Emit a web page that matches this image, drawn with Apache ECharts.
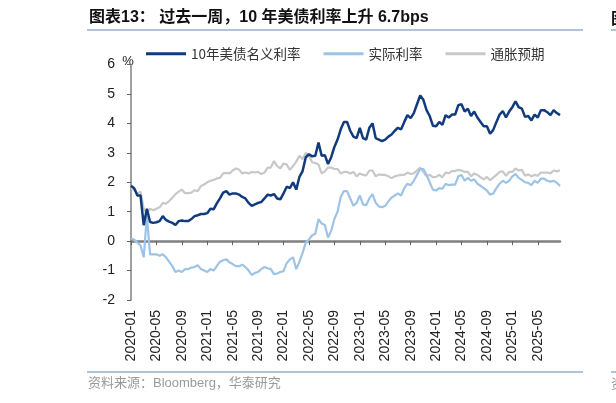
<!DOCTYPE html>
<html>
<head>
<meta charset="utf-8">
<script src="https://cdn.jsdelivr.net/npm/echarts@6.0.0/dist/echarts.min.js"></script>
<style>
  html, body { margin: 0; padding: 0; background: #fff; }
  #main { width: 616px; height: 403px; }
</style>
</head>
<body>
<div id="main"></div>
<script>
// 半月一个点：2020-01 至 2025-08
let dates = [];
for (let y = 2020; y <= 2025; y++) {
    for (let m = 1; m <= 12; m++) {
        if (y === 2025 && m > 8) break;
        let mm = (m < 10 ? '0' : '') + m;
        dates.push(y + '-' + mm + '-01');
        dates.push(y + '-' + mm + '-16');
    }
}

// 10年美债名义利率
let nominal = [
    1.88,1.80, 1.55,1.55, 0.54,1.10, 0.65,0.62, 0.64,0.68, 0.85,0.72, 0.66,0.62, 0.55,0.68, 0.70,0.68, 0.68,0.75, 0.85,0.88, 0.92,0.92,
    0.95,1.10, 1.08,1.28, 1.45,1.65, 1.70,1.58, 1.62,1.62, 1.58,1.50, 1.45,1.30, 1.20,1.25, 1.30,1.33, 1.45,1.58, 1.55,1.60, 1.45,1.42,
    1.62,1.85, 1.80,2.00, 1.75,2.18, 2.38,2.85, 2.95,2.88, 2.90,3.35, 2.90,2.92, 2.62,2.85, 3.20,3.45, 3.80,4.05, 4.05,3.75, 3.55,3.50,
    3.85,3.50, 3.45,3.85, 4.00,3.50, 3.45,3.40, 3.45,3.55, 3.62,3.75, 3.85,3.80, 4.05,4.28, 4.18,4.35, 4.65,4.95, 4.80,4.45, 4.25,3.92,
    3.90,4.05, 3.95,4.28, 4.20,4.30, 4.30,4.62, 4.65,4.40, 4.50,4.25, 4.40,4.20, 4.05,3.90, 3.90,3.65, 3.78,4.05, 4.30,4.42, 4.20,4.40,
    4.55,4.75, 4.55,4.50, 4.22,4.25, 4.10,4.30, 4.20,4.45, 4.45,4.38, 4.28,4.45, 4.35,4.28
];
// 实际利率
let real = [
    0.10,0.05, -0.05,-0.15, -0.55,0.85, -0.45,-0.45, -0.45,-0.50, -0.45,-0.55, -0.70,-0.85, -1.05,-1.00, -1.05,-0.95, -0.95,-0.90, -0.88,-0.82, -0.95,-1.00,
    -1.05,-0.95, -1.00,-0.85, -0.70,-0.65, -0.62,-0.72, -0.78,-0.85, -0.85,-0.80, -0.88,-1.00, -1.15,-1.08, -1.05,-0.95, -0.88,-0.92, -0.95,-1.12, -1.10,-1.05,
    -1.02,-0.75, -0.62,-0.55, -0.95,-0.70, -0.40,-0.05, 0.05,0.20, 0.25,0.75, 0.60,0.55, 0.12,0.35, 0.75,1.00, 1.50,1.70, 1.70,1.45, 1.20,1.30,
    1.55,1.25, 1.22,1.45, 1.60,1.30, 1.18,1.15, 1.20,1.35, 1.48,1.55, 1.62,1.55, 1.80,1.95, 1.90,2.05, 2.25,2.45, 2.45,2.25, 2.00,1.75,
    1.72,1.80, 1.78,1.95, 1.90,1.92, 1.92,2.20, 2.25,2.05, 2.15,2.05, 2.10,1.95, 1.88,1.80, 1.72,1.58, 1.62,1.80, 1.95,2.05, 1.98,2.05,
    2.20,2.28, 2.15,2.08, 2.00,1.98, 1.90,2.05, 1.98,2.12, 2.12,2.05, 2.02,2.05, 1.98,1.87
];
// 通胀预期
let breakeven = [
    1.78,1.75, 1.62,1.68, 1.10,0.95, 1.10,1.05, 1.10,1.15, 1.30,1.27, 1.36,1.47, 1.60,1.68, 1.75,1.63, 1.63,1.65, 1.73,1.70, 1.87,1.92,
    2.00,2.05, 2.08,2.13, 2.15,2.30, 2.32,2.30, 2.40,2.47, 2.43,2.30, 2.33,2.30, 2.35,2.33, 2.35,2.28, 2.33,2.50, 2.50,2.72, 2.55,2.47,
    2.64,2.60, 2.42,2.55, 2.70,2.90, 2.78,3.00, 2.90,2.68, 2.65,2.60, 2.30,2.37, 2.50,2.50, 2.45,2.45, 2.30,2.35, 2.35,2.30, 2.35,2.20,
    2.30,2.25, 2.23,2.40, 2.40,2.20, 2.27,2.25, 2.25,2.20, 2.14,2.20, 2.23,2.25, 2.25,2.33, 2.28,2.30, 2.40,2.50, 2.35,2.20, 2.25,2.17,
    2.18,2.25, 2.17,2.33, 2.30,2.38, 2.38,2.42, 2.40,2.35, 2.35,2.20, 2.30,2.25, 2.17,2.10, 2.18,2.07, 2.16,2.25, 2.35,2.37, 2.22,2.35,
    2.35,2.47, 2.40,2.42, 2.22,2.27, 2.20,2.25, 2.22,2.33, 2.33,2.33, 2.30,2.40, 2.37,2.41
];

let seriesNames = ['10年美债名义利率', '实际利率', '通胀预期'];
let colors = ['#113b7c', '#9dc3e6', '#c8c8c8'];
let fontStack = "'Liberation Sans', Arial, 'Noto Sans CJK SC', sans-serif";

let chart = echarts.init(document.getElementById('main'));
let option = {
    animation: false,
    textStyle: { fontFamily: fontStack },
    grid: { left: 131, right: 56, top: 64.5, bottom: 103 },
    legend: {
        data: seriesNames,
        left: 141,
        top: 42,
        icon: 'rect',
        itemWidth: 40,
        itemHeight: 3,
        itemGap: 23,
        textStyle: { fontSize: 13.5, color: '#333', fontFamily: "'Noto Sans CJK SC', sans-serif" }
    },
    xAxis: [{
        type: 'category',
        data: dates,
        boundaryGap: false,
        axisLine: { onZero: true, lineStyle: { color: '#808080', width: 2.5 } },
        axisTick: { interval: 7, length: 4, lineStyle: { color: '#606060', width: 1 } },
        axisLabel: { show: false },
        splitLine: { show: false }
    }, {
        type: 'category',
        data: dates,
        boundaryGap: false,
        position: 'bottom',
        axisLine: { show: false, onZero: false },
        axisTick: { show: false },
        axisLabel: {
            interval: 7,
            rotate: 90,
            margin: 10,
            fontSize: 14,
            color: '#222',
            formatter: v => v.slice(0, 7)
        },
        splitLine: { show: false }
    }],
    yAxis: {
        type: 'value',
        min: -2,
        max: 6,
        interval: 1,
        name: '%',
        nameLocation: 'end',
        nameGap: -3,
        nameTextStyle: { fontSize: 13, color: '#222', padding: [0, 6, 0, 0] },
        axisLine: { show: true, lineStyle: { color: '#808080', width: 1.5 } },
        axisTick: { show: true, length: 4, lineStyle: { color: '#606060' } },
        axisLabel: { fontSize: 14, color: '#222', margin: 16 },
        splitLine: { show: false }
    },
    series: [{
        name: seriesNames[2],
        type: 'line',
        data: breakeven,
        showSymbol: false,
        lineStyle: { color: colors[2], width: 2.2 },
        itemStyle: { color: colors[2] }
    }, {
        name: seriesNames[1],
        type: 'line',
        data: real,
        showSymbol: false,
        lineStyle: { color: colors[1], width: 2.2 },
        itemStyle: { color: colors[1] }
    }, {
        name: seriesNames[0],
        type: 'line',
        data: nominal,
        showSymbol: false,
        lineStyle: { color: colors[0], width: 2.5 },
        itemStyle: { color: colors[0] }
    }],
    graphic: [
        { type: 'text', left: 89, top: 10, style: { text: '图表13： 过去一周，10 年美债利率上升 6.7bps', font: "bold 16px 'Liberation Sans', 'Noto Sans CJK SC', sans-serif", fill: '#111' } },
        { type: 'line', shape: { x1: 87, y1: 30, x2: 583, y2: 30 }, style: { stroke: '#98afc7', lineWidth: 1.5 } },
        { type: 'text', left: 611, top: 10, style: { text: '图', font: "bold 16px 'Noto Sans CJK SC', sans-serif", fill: '#111' } },
        { type: 'line', shape: { x1: 611, y1: 30, x2: 616, y2: 30 }, style: { stroke: '#98afc7', lineWidth: 1.5 } },
        { type: 'line', shape: { x1: 87, y1: 372, x2: 583, y2: 372 }, style: { stroke: '#98afc7', lineWidth: 1.5 } },
        { type: 'line', shape: { x1: 611, y1: 372, x2: 616, y2: 372 }, style: { stroke: '#98afc7', lineWidth: 1.5 } },
        { type: 'text', left: 88, top: 377, style: { text: '资料来源：Bloomberg，华泰研究', font: "13px 'Liberation Sans', 'Noto Sans CJK SC', sans-serif", fill: '#9a9a9a' } },
        { type: 'text', left: 611, top: 377, style: { text: '资', font: "13px 'Noto Sans CJK SC', sans-serif", fill: '#9a9a9a' } }
    ]
};
chart.setOption(option);
</script>
</body>
</html>
